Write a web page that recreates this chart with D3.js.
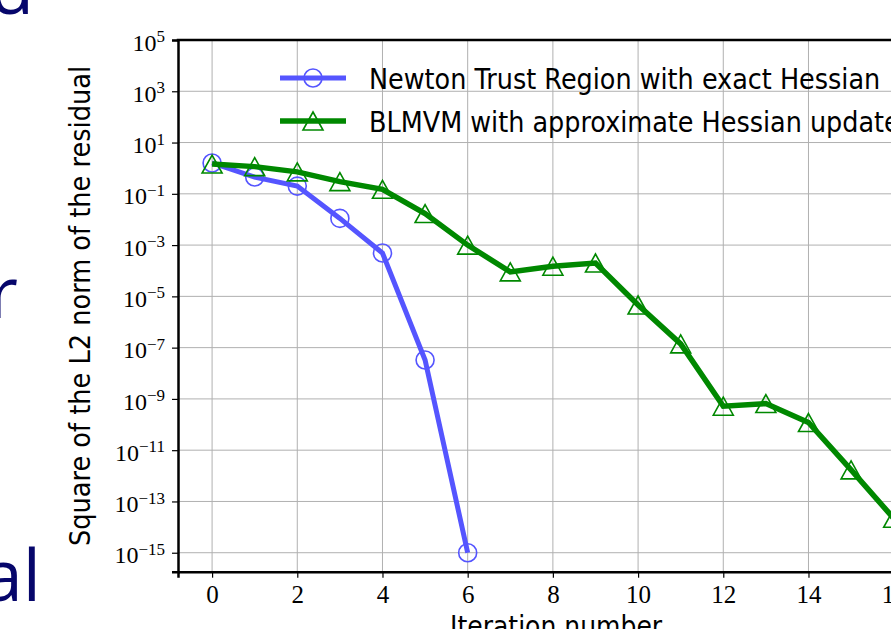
<!DOCTYPE html>
<meta charset="utf-8">
<style>
body { margin: 0; background: #fff; }
svg { display: block; }
.grid line { stroke: #b0b0b0; stroke-width: 1; }
.tick text { font-family: "Liberation Serif", serif; fill: #000; }
.sans { font-family: "DejaVu Sans", sans-serif; font-size: 28.5px; }
</style>
<svg width="891" height="629"></svg>
<script src="https://d3js.org/d3.v7.min.js"></script>
<script>

// iterations and residuals
var newtonIter = [0, 1, 2, 3, 4, 5, 6];
var newtonRes  = [1.6, 0.45, 0.2, 0.011, 4.9e-4, 3.3e-8, 1e-15];

var blmvmIter = [0, 1, 2, 3, 4, 5, 6, 7, 8, 9, 10, 11, 12, 13, 14, 15, 16];
var blmvmRes  = [1.45, 1.15, 0.72, 0.30, 0.15, 0.017, 1.0e-3, 9e-5, 1.5e-4, 2.0e-4,
                 4.6e-6, 1.4e-7, 5.2e-10, 6.6e-10, 1.2e-10, 1.7e-12, 2.2e-14];

var xTicks = [0, 2, 4, 6, 8, 10, 12, 14, 16, 18, 20];
var yExps  = [5, 3, 1, -1, -3, -5, -7, -9, -11, -13, -15];

var seriesNames = ["Newton Trust Region with exact Hessian",
                   "BLMVM with approximate Hessian update"];

var svg = d3.select("svg"),
    width = +svg.attr("width"),
    height = +svg.attr("height");

var plotLeft = 178, plotTop = 40, plotBottom = 571.7;

var x = d3.scaleLinear().domain([-0.8, 20.8]).range([plotLeft, plotLeft + 21.6 * 42.6]);
var y = d3.scaleLog().domain([Math.pow(10, -15.74), 1e5]).range([plotBottom, plotTop]);

// slide text peeking in from the left
var slide = svg.append("g")
    .style("font-family", "'Open Sans', sans-serif")
    .style("font-size", "72px")
    .attr("fill", "#06066b")
    .attr("text-anchor", "end");
slide.append("text").attr("x", 34).attr("y", 14).text("d");
slide.append("text").attr("x", 18).attr("y", 318).text("r");
slide.append("text").attr("x", 41).attr("y", 601).text("al");

svg.append("clipPath").attr("id", "clip")
  .append("rect").attr("x", plotLeft).attr("y", plotTop)
  .attr("width", 2000).attr("height", plotBottom - plotTop);

// grid
var grid = svg.append("g").attr("class", "grid");
grid.selectAll(".gx").data(xTicks).enter().append("line")
    .attr("x1", function(d) { return x(d); }).attr("x2", function(d) { return x(d); })
    .attr("y1", plotTop).attr("y2", plotBottom);
grid.selectAll(".gy").data(yExps).enter().append("line")
    .attr("x1", plotLeft).attr("x2", width + 200)
    .attr("y1", function(d) { return y(Math.pow(10, d)); })
    .attr("y2", function(d) { return y(Math.pow(10, d)); });

// axes
var xAxis = svg.append("g")
    .attr("transform", "translate(0," + plotBottom + ")")
    .call(d3.axisBottom(x).tickValues(xTicks).tickSize(6).tickPadding(7).tickFormat(d3.format("d")));
xAxis.selectAll(".tick text").style("font-size", "25px").attr("dy", "0.72em");

var yAxis = svg.append("g")
    .attr("transform", "translate(" + plotLeft + ",0)")
    .call(d3.axisLeft(y).tickValues(yExps.map(function(e) { return Math.pow(10, e); }))
      .tickSize(6).tickPadding(7).tickFormat(""));
yAxis.selectAll(".tick text").each(function(d) {
  var e = Math.round(Math.log10(d));
  var t = d3.select(this).style("font-size", "24px").attr("dy", "0.42em");
  t.append("tspan").text("10");
  t.append("tspan").attr("dy", "-0.5em").style("font-size", "17px")
    .text(e < 0 ? "\u2212" + (-e) : e);
});

svg.selectAll(".domain").attr("stroke-width", 2.5).attr("stroke", "#000");
svg.selectAll(".tick line").attr("stroke-width", 1.2);
// top spine runs off the right edge
svg.append("line").attr("x1", plotLeft - 1.25).attr("x2", width + 100)
    .attr("y1", plotTop).attr("y2", plotTop)
    .attr("stroke", "#000").attr("stroke-width", 2.5);

var line = d3.line()
    .x(function(d) { return x(d[0]); })
    .y(function(d) { return y(d[1]); });

var plot = svg.append("g").attr("clip-path", "url(#clip)");

var newton = d3.zip(newtonIter, newtonRes),
    blmvm = d3.zip(blmvmIter, blmvmRes);

var blue = "#5555ff", green = "#008800";
var tri = "M0,-9L10,9L-10,9Z";

plot.append("path").datum(newton).attr("d", line)
    .attr("fill", "none").attr("stroke", blue).attr("stroke-width", 5);
plot.selectAll(".nm").data(newton).enter().append("circle")
    .attr("cx", function(d) { return x(d[0]); })
    .attr("cy", function(d) { return y(d[1]); })
    .attr("r", 9).attr("fill", "none").attr("stroke", blue).attr("stroke-width", 1.6);

plot.append("path").datum(blmvm).attr("d", line)
    .attr("fill", "none").attr("stroke", green).attr("stroke-width", 5.5);
plot.selectAll(".bm").data(blmvm).enter().append("path")
    .attr("d", tri)
    .attr("transform", function(d) { return "translate(" + x(d[0]) + "," + y(d[1]) + ")"; })
    .attr("fill", "none").attr("stroke", green).attr("stroke-width", 1.6);

// legend
var legend = svg.append("g").attr("class", "sans");
var legY = [78, 121];
seriesNames.forEach(function(name, i) {
  var col = i === 0 ? blue : green;
  var g = legend.append("g").attr("transform", "translate(0," + legY[i] + ")");
  g.append("line").attr("x1", 280).attr("x2", 346).attr("y1", 0).attr("y2", 0)
    .attr("stroke", col).attr("stroke-width", i === 0 ? 5 : 5.5);
  if (i === 0) {
    g.append("circle").attr("cx", 313).attr("cy", 0).attr("r", 9)
      .attr("fill", "none").attr("stroke", col).attr("stroke-width", 1.6);
  } else {
    g.append("path").attr("d", tri).attr("transform", "translate(313,0)")
      .attr("fill", "none").attr("stroke", col).attr("stroke-width", 1.6);
  }
  g.append("text").attr("transform", "translate(369,11) scale(0.895,1)")
    .attr("fill", "#000").text(name);
});

// axis labels
svg.append("text").attr("class", "sans")
    .attr("transform", "translate(90,306) rotate(-90) scale(0.9,1)")
    .attr("text-anchor", "middle")
    .text("Square of the L2 norm of the residual");

svg.append("text").attr("class", "sans")
    .attr("transform", "translate(450,636) scale(0.88,1)")
    .text("Iteration number");

</script>
